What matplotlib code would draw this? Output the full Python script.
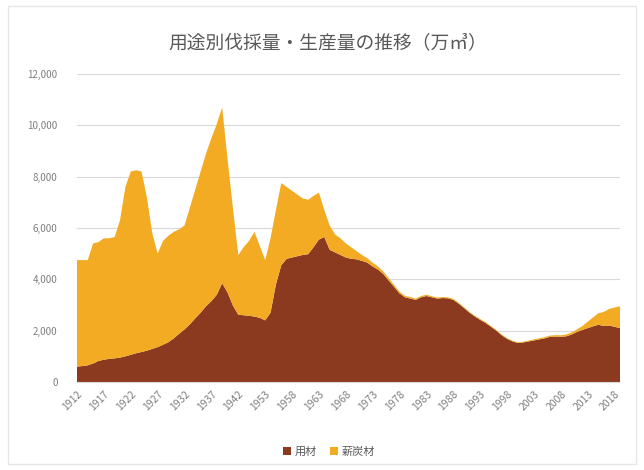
import matplotlib
matplotlib.use("Agg")
import matplotlib.pyplot as plt
import numpy as np
from matplotlib.patches import Patch, Rectangle
from matplotlib.ticker import FuncFormatter

plt.rcParams['font.family'] = ['Noto Sans CJK JP', 'DejaVu Sans']

# 年次（1944〜1949年は欠測）
years = list(range(1912, 1944)) + list(range(1950, 2020))

# 用材（万㎥）
timber = [
    600, 620, 650, 720, 820, 870, 900, 920, 950, 1000,
    1060, 1120, 1170, 1220, 1290, 1360, 1450, 1550, 1700, 1880,
    2050, 2250, 2480, 2700, 2950, 3150, 3400, 3850, 3490, 2980,
    2620, 2600, 2580, 2550, 2500, 2400, 2700, 3800, 4550, 4800,
    4850, 4900, 4950, 4980, 5250, 5550, 5650, 5150, 5050, 4950,
    4850, 4800, 4780, 4720, 4650, 4500, 4380, 4200, 3950, 3700,
    3450, 3300, 3250, 3200, 3300, 3350, 3300, 3250, 3270, 3260,
    3200, 3050, 2880, 2700, 2550, 2420, 2300, 2150, 2000, 1820,
    1680, 1580, 1520, 1540, 1580, 1620, 1660, 1700, 1760, 1770,
    1760, 1780, 1850, 1950, 2030, 2100, 2170, 2230, 2180, 2200,
    2150, 2100,
]

# 薪炭材（万㎥）
fuelwood = [
    4150, 4130, 4100, 4680, 4630, 4730, 4700, 4730, 5350, 6600,
    7140, 7130, 7030, 5980, 4510, 3640, 4050, 4150, 4150, 4070,
    4050, 4550, 5020, 5500, 5950, 6350, 6650, 6850, 5200, 3800,
    2330, 2650, 2920, 3300, 2800, 2350, 2900, 2900, 3200, 2800,
    2600, 2400, 2200, 2120, 2000, 1830, 1050, 950, 700, 650,
    550, 450, 320, 230, 170, 150, 120, 100, 90, 80,
    70, 60, 60, 50, 50, 50, 45, 45, 40, 40,
    40, 38, 36, 35, 35, 34, 33, 32, 31, 30,
    30, 30, 30, 30, 35, 40, 45, 50, 50, 55,
    60, 70, 80, 100, 150, 250, 350, 450, 550, 650,
    750, 850,
]

series_names = ['用材', '薪炭材']
colors = ['#8b391f', '#f3ab24']
title = '用途別伐採量・生産量の推移（万㎥）'

W, H = 644, 470
fig = plt.figure(figsize=(W / 100, H / 100), dpi=100)
fig.patch.set_facecolor('white')

# faint chart frame
fig.patches.append(Rectangle((8 / W, 6 / H), 628 / W, 458 / H, transform=fig.transFigure,
                             fill=False, edgecolor='#e6e6e6', linewidth=1.0))

ax = fig.add_axes([77 / W, 1 - 382 / H, 543 / W, 308 / H])
x = np.arange(len(years))
ax.stackplot(x, timber, fuelwood, colors=colors, linewidth=0)

ax.set_xlim(0, len(years) - 1)
ax.set_ylim(0, 12000)
ax.set_yticks(range(0, 12001, 2000))
ax.yaxis.set_major_formatter(FuncFormatter(lambda v, p: f"{int(v):,}"))
ax.grid(axis='y', color='#d9d9d9', linewidth=0.8)
ax.set_axisbelow(True)

for s in ['left', 'right', 'top']:
    ax.spines[s].set_visible(False)
ax.spines['bottom'].set_color('#d9d9d9')

ax.set_xticks(x[::5])
ax.set_xticklabels([str(y) for y in years[::5]], rotation=45, ha='right',
                   rotation_mode='anchor', fontsize=7.5, color='#7f7f7f')
ax.tick_params(axis='x', length=0, pad=5)
ax.tick_params(axis='y', length=0, pad=14, labelsize=7, labelcolor='#7f7f7f')

fig.text(328 / W, 1 - 43 / H, title, ha='center', va='center',
         fontsize=13.5, color='#595959')

handles = [Patch(facecolor=c, edgecolor='none', label=n) for c, n in zip(colors, series_names)]
fig.legend(handles=handles, loc='center', bbox_to_anchor=(329 / W, 1 - 452 / H), ncol=2,
           frameon=False, fontsize=8, handlelength=0.7, handleheight=0.7,
           handletextpad=0.3, columnspacing=1.2, labelcolor='#595959')

fig.savefig('out.png', dpi=100, facecolor='white')
